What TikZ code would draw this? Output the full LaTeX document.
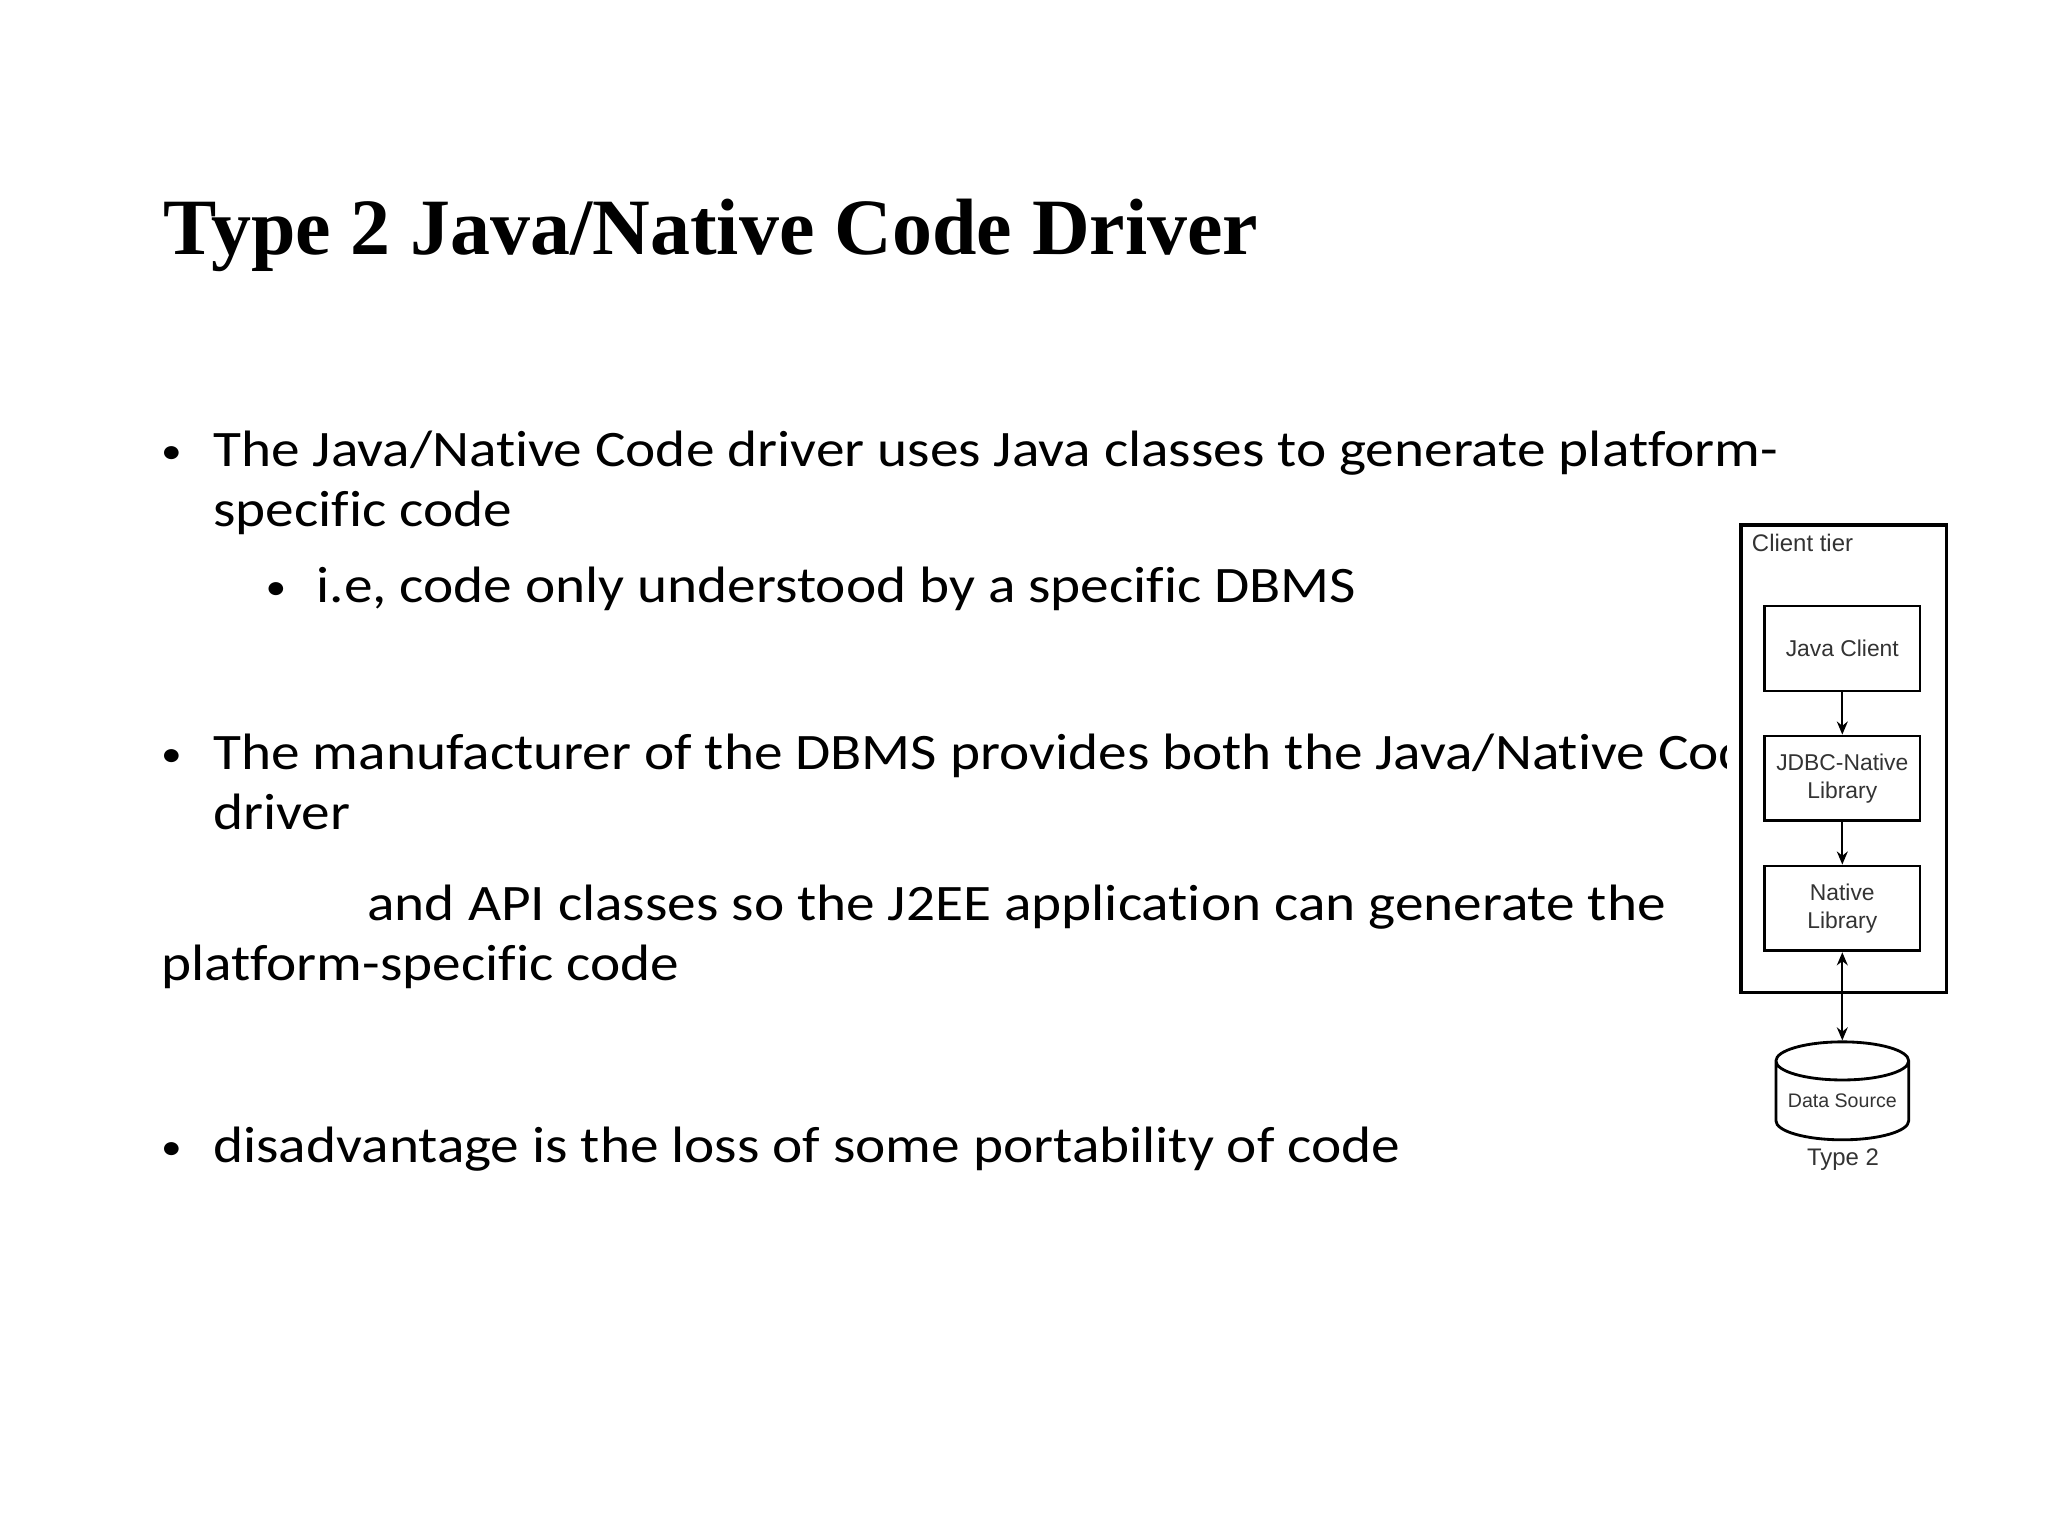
\documentclass[tikz,border=0pt]{standalone}
\usepackage{fontspec}
\setmainfont{Carlito}[FakeStretch=1.12,Ligatures=NoCommon]
\newfontfamily\titlefont{Liberation Serif}
\newfontfamily\diagfont{Liberation Sans}
\usetikzlibrary{shapes.geometric,arrows.meta}
\begin{document}
\begin{tikzpicture}[x=0.6pt,y=-0.6pt,
  body/.style={anchor=base west,inner sep=0pt,font=\fontsize{23.5}{27}\selectfont},
  bul/.style={anchor=base west,inner sep=0pt,font=\fontsize{17}{20}\selectfont},
  dbox/.style={draw,line width=1.3pt,minimum width=71.4pt,minimum height=39pt,inner sep=0pt,align=center,font=\diagfont\fontsize{10.5}{13}\selectfont,text=black!80},
  arr/.style={-{Stealth[length=6pt,width=5pt]},line width=1pt}]
\useasboundingbox (0,0) rectangle (1568,1176);
\node[anchor=base west,inner sep=0pt,font=\titlefont\bfseries\fontsize{36.7}{40}\selectfont] (title) at (125,195) {Type 2 Java/Native Code Driver};
\node[bul] (b1) at (123,355) {•};
\node[body] (t1) at (163,357) {The Java/Native Code driver uses Java classes to generate platform-};
\node[body] (t1b) at (163,403) {specific code};
\node[bul] (b2) at (203,459) {•};
\node[body] (t2) at (242,461) {i.e, code only understood by a specific DBMS};
\node[bul] (b3) at (123,587) {•};
\node[body] (t3) at (163,589) {The manufacturer of the DBMS provides both the Java/Native Code};
\node[body] (t3b) at (163,635) {driver};
\node[body] (t4) at (281,705) {and API classes so the J2EE application can generate the};
\node[body] (t4b) at (123,751) {platform-specific code};
\node[bul] (b5) at (123,888) {•};
\node[body] (t5) at (163,890) {disadvantage is the loss of some portability of code};
% diagram
\fill[white] (1322,395) rectangle (1500,900);
\draw[line width=1.5pt] (1333,402) rectangle (1490,760);
\node[anchor=north west,inner sep=0pt,font=\diagfont\fontsize{11}{13}\selectfont,text=black!80] (ct) at (1341,409) {Client tier};
\node[dbox] (jc) at (1410.5,496.5) {Java Client};
\node[dbox] (jn) at (1410.5,596) {JDBC-Native\\Library};
\node[dbox] (nl) at (1410.5,695.5) {Native\\Library};
\node[cylinder,shape border rotate=90,draw,line width=1.3pt,minimum width=61pt,minimum height=45pt,aspect=0.35,inner sep=0pt,font=\diagfont\fontsize{9}{10}\selectfont,text=black!80,yshift=-6pt] (ds) at (1410.5,833) {Data Source};
\node[font=\diagfont\fontsize{11}{13}\selectfont,text=black!80] (ty) at (1411,888) {Type 2};
\draw[arr] (jc) -- (jn);
\draw[arr] (jn) -- (nl);
\draw[arr,{Stealth[length=6pt,width=5pt]}-{Stealth[length=6pt,width=5pt]}] (nl) -- (ds.top);
\end{tikzpicture}
\end{document}
